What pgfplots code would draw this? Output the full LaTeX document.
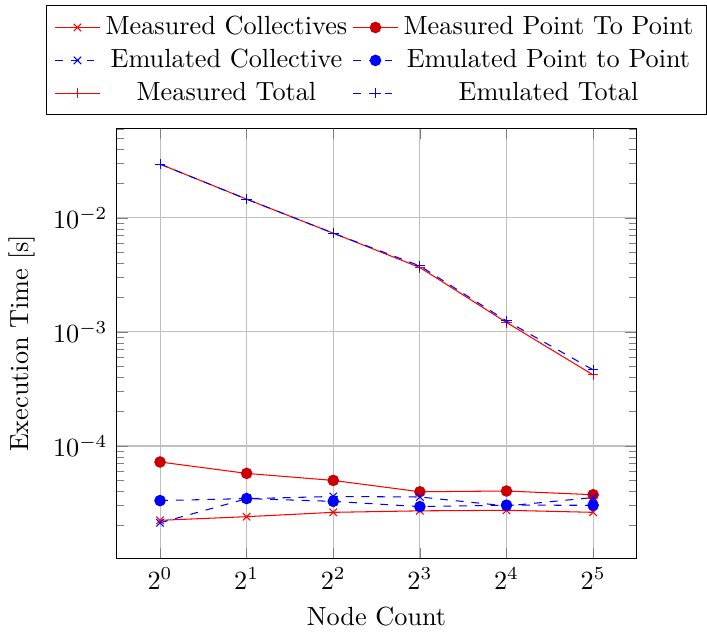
\documentclass[border=0pt]{standalone}
\usepackage{pgfplots}
\pgfplotsset{compat=1.18}
\begin{document}
\begin{tikzpicture}
\begin{axis}[
    scale only axis,
    width=198pt, height=164pt,
    xmode=log, log basis x=2,
    ymode=log,
    xtick={1,2,4,8,16,32},
    enlargelimits=0.1,
    grid=major,
    xlabel={Node Count},
    ylabel={Execution Time [s]},
    legend columns=2,
    legend cell align=center,
    legend style={at={(0.5,1.03)}, anchor=south},
]
\addplot[red, mark=x] coordinates {
    (1,2.23e-5) (2,2.40e-5) (4,2.62e-5) (8,2.70e-5) (16,2.73e-5) (32,2.62e-5)
};
\addlegendentry{Measured Collectives}
\addplot[red, mark=*, mark options={fill=red!80!black, draw=red!80!black}] coordinates {
    (1,7.24e-5) (2,5.75e-5) (4,4.99e-5) (8,3.97e-5) (16,4.03e-5) (32,3.74e-5)
};
\addlegendentry{Measured Point To Point}
\addplot[blue, dashed, mark=x, mark options={solid}] coordinates {
    (1,2.12e-5) (2,3.45e-5) (4,3.61e-5) (8,3.57e-5) (16,2.98e-5) (32,3.53e-5)
};
\addlegendentry{Emulated Collective}
\addplot[blue, dashed, mark=*, mark options={solid, fill=blue}] coordinates {
    (1,3.32e-5) (2,3.46e-5) (4,3.27e-5) (8,2.94e-5) (16,3.03e-5) (32,3.02e-5)
};
\addlegendentry{Emulated Point to Point}
\addplot[red, mark=+] coordinates {
    (1,0.0296) (2,0.01459) (4,0.00734) (8,0.00367) (16,0.00121) (32,0.00042)
};
\addlegendentry{Measured Total}
\addplot[blue, dashed, mark=+, mark options={solid}] coordinates {
    (1,0.0296) (2,0.01459) (4,0.00734) (8,0.00379) (16,0.00125) (32,0.000465)
};
\addlegendentry{Emulated Total}
\end{axis}
% a little room above the legend, as in the reference
\path ([yshift=2pt]current bounding box.north);
\end{tikzpicture}
\end{document}
